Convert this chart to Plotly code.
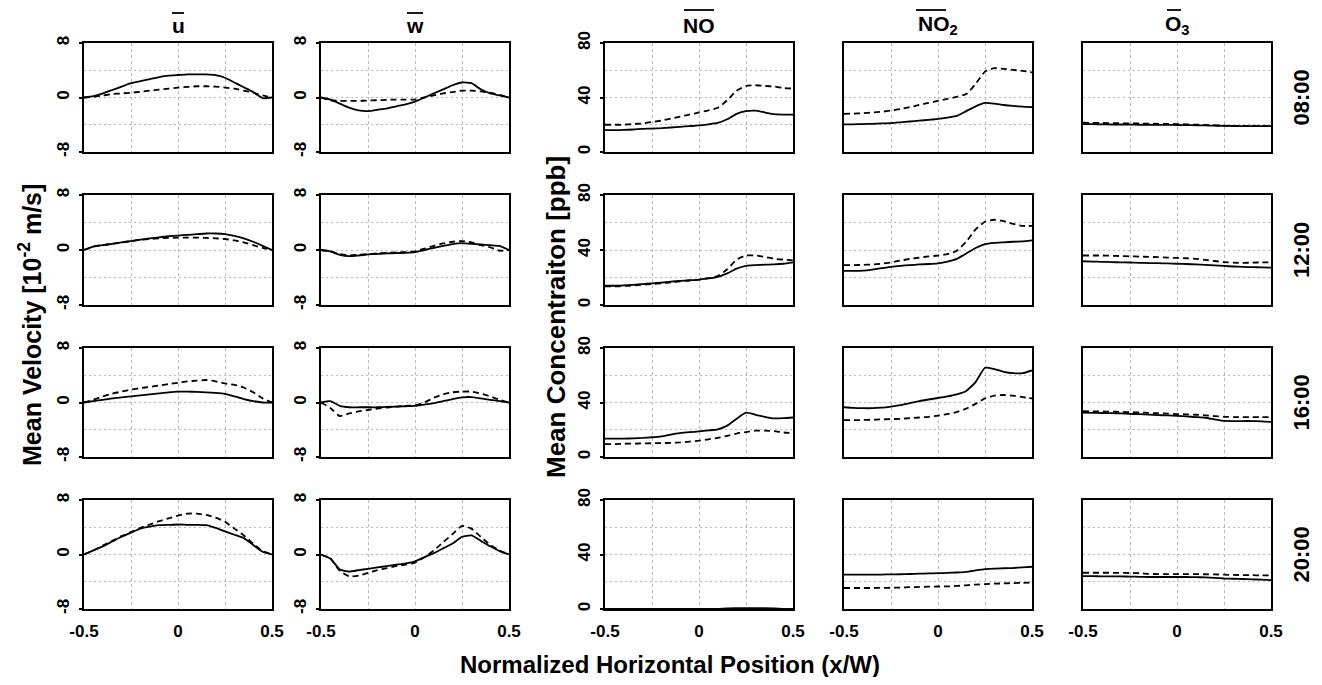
import plotly.graph_objects as go
from plotly.subplots import make_subplots

# ---------------- data ----------------
x_pos = [-0.5, -0.45, -0.4, -0.35, -0.3, -0.25, -0.2, -0.15, -0.1, -0.05, 0.0,
         0.05, 0.1, 0.15, 0.2, 0.25, 0.3, 0.35, 0.4, 0.45, 0.5]

column_titles = ["u", "w", "NO", "NO<sub>2</sub>", "O<sub>3</sub>"]
time_labels = ["08:00", "12:00", "16:00", "20:00"]
x_tick_vals = [-0.5, 0, 0.5]
x_tick_text = ["-0.5", "0", "0.5"]
vel_tick_vals = [-8, 0, 8]
vel_tick_text = ["-8", "0", "8"]
conc_tick_vals = [0, 40, 80]
conc_tick_text = ["0", "40", "80"]

# 08:00
u08_s = [0, 0.2, 0.6, 1.1, 1.6, 2.1, 2.4, 2.7, 3.0, 3.2, 3.3, 3.4, 3.4, 3.4, 3.3, 2.9, 2.2, 1.5, 0.8, -0.1, 0]
u08_d = [0, 0.1, 0.3, 0.5, 0.6, 0.7, 0.85, 1.0, 1.15, 1.3, 1.45, 1.55, 1.65, 1.65, 1.6, 1.45, 1.3, 1.0, 0.7, 0.3, 0]
w08_s = [0, -0.3, -0.9, -1.5, -1.9, -2.0, -1.8, -1.6, -1.3, -1.0, -0.6, 0.0, 0.6, 1.2, 1.8, 2.2, 2.1, 1.2, 0.6, 0.3, 0]
w08_d = [0, -0.4, -0.5, -0.5, -0.5, -0.45, -0.4, -0.35, -0.3, -0.3, -0.3, 0, 0.3, 0.6, 0.8, 1.0, 1.0, 0.9, 0.7, 0.4, 0]
no08_s = [16, 16, 16.2, 16.5, 17, 17.2, 17.5, 18, 18.5, 19, 19.5, 20.3, 21.3, 24, 28, 30, 30.3, 29, 27.8, 27.5, 27.5]
no08_d = [20, 20, 20, 20.5, 21, 22, 23, 24.5, 26, 27.5, 29, 30.5, 32.5, 38, 45, 48.5, 49, 48.5, 48, 47, 46.5]
no2_08_s = [20.3, 20.3, 20.5, 20.7, 21, 21.2, 21.8, 22.4, 23, 23.6, 24.3, 25.3, 26.5, 30, 33.5, 36, 35.5, 34.5, 33.8, 33.3, 33]
no2_08_d = [28, 28.2, 28.5, 29, 29.5, 30.5, 31.5, 33, 34.5, 36, 37.5, 39, 40.5, 42.5, 50, 59, 61.5, 61, 60.3, 59.5, 58.5]
o3_08_s = [20.5, 20.4, 20.3, 20.2, 20.2, 20.1, 20, 20, 19.9, 19.9, 19.8, 19.7, 19.6, 19.5, 19.3, 19.2, 19.1, 19, 19, 19, 19]
o3_08_d = [21.5, 21.4, 21.3, 21.2, 21.1, 21, 20.9, 20.8, 20.7, 20.6, 20.5, 20.3, 20.1, 19.9, 19.6, 19.3, 19.1, 19, 19, 19, 19.2]

# 12:00
u12_s = [0, 0.5, 0.7, 0.9, 1.1, 1.3, 1.5, 1.7, 1.85, 2.0, 2.1, 2.2, 2.3, 2.4, 2.4, 2.3, 2.05, 1.7, 1.2, 0.6, 0]
u12_d = [0, 0.5, 0.7, 0.9, 1.1, 1.3, 1.5, 1.6, 1.7, 1.75, 1.8, 1.8, 1.8, 1.75, 1.7, 1.6, 1.4, 1.1, 0.7, 0.3, 0]
w12_s = [0, -0.2, -0.7, -0.9, -0.8, -0.65, -0.55, -0.5, -0.45, -0.4, -0.3, 0, 0.3, 0.6, 0.85, 1.0, 0.9, 0.8, 0.7, 0.6, 0]
w12_d = [0, -0.2, -0.6, -0.8, -0.7, -0.6, -0.5, -0.4, -0.35, -0.3, -0.2, 0.2, 0.6, 0.95, 1.2, 1.3, 1.1, 0.7, 0.4, -0.1, 0]
no12_s = [14, 14, 14.3, 14.7, 15.2, 15.7, 16.3, 17, 17.5, 18, 18.5, 19.3, 20.5, 23, 26.5, 28.5, 29, 29.3, 29.5, 30, 31]
no12_d = [13.5, 13.5, 13.8, 14.2, 14.7, 15.2, 15.8, 16.5, 17.2, 17.8, 18.5, 19.5, 21, 26, 33, 36, 36, 35, 33.5, 33, 32.5]
no2_12_s = [24.8, 24.8, 25, 25.8, 26.8, 27.8, 28.5, 29, 29.5, 29.8, 30.3, 31.5, 33.5, 37.5, 41.5, 44.3, 45.2, 45.6, 46, 46.2, 47]
no2_12_d = [29, 29, 29.2, 29.5, 30, 31, 32.3, 33.5, 34.5, 35.3, 36, 37, 39.5, 46, 55, 60.5, 62, 61, 59, 57.5, 57.5]
o3_12_s = [31.8, 31.6, 31.4, 31.2, 31, 30.9, 30.7, 30.5, 30.4, 30.2, 30, 29.8, 29.5, 29.2, 28.8, 28.4, 28, 27.7, 27.5, 27.4, 27.2]
o3_12_d = [36, 36, 36, 35.8, 35.6, 35.4, 35.2, 35, 34.8, 34.5, 34.2, 34, 33.6, 32.8, 32, 31.2, 30.8, 30.6, 30.8, 31, 31]

# 16:00
u16_s = [0, 0.2, 0.4, 0.6, 0.75, 0.9, 1.05, 1.2, 1.35, 1.5, 1.6, 1.6, 1.55, 1.5, 1.4, 1.25, 0.9, 0.5, 0.2, 0, 0]
u16_d = [0, 0.4, 0.9, 1.3, 1.6, 1.9, 2.1, 2.3, 2.5, 2.7, 2.9, 3.1, 3.2, 3.3, 3.1, 2.8, 2.6, 2.2, 1.5, 0.6, 0]
w16_s = [0, 0.2, -0.5, -0.7, -0.7, -0.7, -0.7, -0.65, -0.6, -0.55, -0.5, -0.3, -0.1, 0.2, 0.5, 0.75, 0.8, 0.6, 0.4, 0.2, 0]
w16_d = [0, -0.8, -2.0, -1.6, -1.3, -1.1, -0.9, -0.75, -0.6, -0.5, -0.4, 0, 0.7, 1.2, 1.5, 1.6, 1.6, 1.3, 0.9, 0.4, 0]
no16_s = [13.5, 13.5, 13.5, 13.7, 14, 14.5, 15.2, 16.5, 17.5, 18.2, 18.8, 19.5, 20.3, 23, 28, 32.5, 31, 29.5, 28.3, 28.5, 29]
no16_d = [9.4, 9.5, 9.7, 9.8, 10, 10.1, 10.2, 10.4, 10.7, 11.3, 12, 13, 14, 15.5, 17.2, 18.3, 19.3, 19.4, 19, 18, 17.5]
no2_16_s = [36.5, 36, 35.8, 35.8, 36.2, 37, 38, 39.5, 41, 42.2, 43.3, 44.5, 46, 48.5, 55, 65.5, 64.5, 62.5, 61.5, 61.5, 63.5]
no2_16_d = [27, 27, 27.2, 27.4, 27.6, 27.8, 28, 28.5, 29, 29.5, 30.3, 31.5, 33, 35.5, 39, 43, 45, 45.5, 45, 44, 43]
o3_16_s = [32.5, 32.4, 32.3, 32.2, 32, 31.7, 31.4, 31.1, 30.8, 30.5, 30.2, 29.8, 29.3, 28.8, 27.6, 26.5, 26.4, 26.4, 26.4, 26.2, 25.8]
o3_16_d = [33.6, 33.5, 33.4, 33.3, 33.1, 32.9, 32.7, 32.4, 32.1, 31.8, 31.5, 31.3, 31, 30.6, 30, 29.5, 29.3, 29.3, 29.3, 29.3, 29.3]

# 20:00
u20_s = [0, 0.6, 1.2, 1.9, 2.6, 3.2, 3.8, 4.1, 4.3, 4.35, 4.4, 4.35, 4.35, 4.3, 3.9, 3.4, 2.9, 2.4, 1.4, 0.4, 0]
u20_d = [0, 0.6, 1.3, 2.0, 2.7, 3.3, 3.9, 4.4, 4.9, 5.3, 5.7, 6.0, 6.0, 5.8, 5.4, 4.8, 3.8, 2.8, 1.6, 0.5, 0]
w20_s = [0, -0.6, -2.2, -2.5, -2.3, -2.1, -1.9, -1.7, -1.5, -1.3, -1.0, -0.4, 0.2, 0.9, 1.6, 2.6, 2.8, 2.0, 1.2, 0.5, 0]
w20_d = [0, -0.6, -2.4, -3.2, -3.1, -2.7, -2.3, -2.0, -1.7, -1.5, -1.2, -0.4, 0.6, 1.8, 3.0, 4.2, 3.8, 2.6, 1.4, 0.6, 0]
no20_s = [0, 0, 0, 0, 0, 0, 0, 0, 0, 0, 0, 0, 0, 0.5, 0.6, 0.6, 0.6, 0.6, 0.5, 0, 0]
no20_d = [0, 0, 0, 0, 0, 0, 0, 0, 0, 0, 0, 0, 0, 0, 0, 0, 0, 0, 0, 0, 0]
no2_20_s = [25.3, 25.3, 25.3, 25.3, 25.3, 25.4, 25.5, 25.7, 25.9, 26.1, 26.3, 26.5, 26.8, 27.3, 28.3, 29.2, 29.7, 29.9, 30.1, 30.5, 31]
no2_20_d = [15.4, 15.4, 15.4, 15.4, 15.5, 15.6, 15.7, 16, 16.2, 16.4, 16.5, 16.6, 16.9, 17.4, 17.9, 18.3, 18.6, 18.8, 19, 19.2, 19.4]
o3_20_s = [24.2, 24.1, 24, 24, 23.9, 23.8, 23.6, 23.5, 23.5, 23.5, 23.5, 23.5, 23.4, 23.2, 22.8, 22.4, 22.2, 22, 21.8, 21.5, 21.2]
o3_20_d = [26.6, 26.6, 26.6, 26.6, 26.5, 26.4, 26.3, 25.8, 25.6, 25.6, 25.6, 25.6, 25.6, 25.5, 25.4, 25.2, 25, 24.9, 24.8, 24.7, 24.6]

panels = [
    [(u08_s, u08_d), (w08_s, w08_d), (no08_s, no08_d), (no2_08_s, no2_08_d), (o3_08_s, o3_08_d)],
    [(u12_s, u12_d), (w12_s, w12_d), (no12_s, no12_d), (no2_12_s, no2_12_d), (o3_12_s, o3_12_d)],
    [(u16_s, u16_d), (w16_s, w16_d), (no16_s, no16_d), (no2_16_s, no2_16_d), (o3_16_s, o3_16_d)],
    [(u20_s, u20_d), (w20_s, w20_d), (no20_s, no20_d), (no2_20_s, no2_20_d), (o3_20_s, o3_20_d)],
]

# ---------------- layout geometry (page pixels) ----------------
OFF = 8                      # default page margin around the plot div
W, H = 1322 - 2 * OFF, 685 - 2 * OFF
col_px = [(84, 272), (321, 509), (605, 793), (844, 1032), (1083, 1271)]
row_px = [(43, 152), (195, 305), (348, 457), (500, 609)]


def px(xp):
    return (xp - OFF) / W


def py(yp):
    return 1 - (yp - OFF) / H


FONT = "Liberation Sans, Arial, sans-serif"
GRID = "#b8b8b8"

fig = make_subplots(rows=4, cols=5)

for r in range(4):
    for c in range(5):
        solid, dashed = panels[r][c]
        fig.add_trace(go.Scatter(x=x_pos, y=solid, mode="lines",
                                 line=dict(color="black", width=1.8, shape="spline", smoothing=0.5),
                                 showlegend=False, hoverinfo="skip"), row=r + 1, col=c + 1)
        fig.add_trace(go.Scatter(x=x_pos, y=dashed, mode="lines",
                                 line=dict(color="black", width=1.8, dash="6px,4px", shape="spline", smoothing=0.5),
                                 showlegend=False, hoverinfo="skip"), row=r + 1, col=c + 1)

tick_font = dict(family=FONT, size=17, color="black", weight="bold")

for r in range(4):
    for c in range(5):
        idx = r * 5 + c + 1
        xn = "xaxis" if idx == 1 else f"xaxis{idx}"
        yn = "yaxis" if idx == 1 else f"yaxis{idx}"
        x0, x1 = col_px[c]
        t, b = row_px[r]
        velocity = c < 2
        fig.layout[xn].update(
            domain=[px(x0), px(x1)], range=[-0.5, 0.5], automargin=False,
            tickmode="array", tickvals=x_tick_vals, ticktext=x_tick_text,
            showticklabels=(r == 3), ticks="", ticklabelstandoff=6,
            tickfont=tick_font,
            showline=True, mirror=True, linecolor="black", linewidth=2,
            showgrid=True, gridcolor=GRID, gridwidth=1.3, griddash="3px,3px",
            minor=dict(tickvals=[-0.25, 0.25], showgrid=True, gridcolor=GRID,
                       gridwidth=1.3, griddash="3px,3px", ticks=""),
            zeroline=False, fixedrange=True,
        )
        fig.layout[yn].update(
            domain=[py(b), py(t)], automargin=False,
            range=[-8, 8] if velocity else [0, 80],
            tickmode="array",
            tickvals=vel_tick_vals if velocity else conc_tick_vals,
            ticktext=vel_tick_text if velocity else conc_tick_text,
            showticklabels=(c in (0, 1, 2)),
            ticks="outside" if c in (0, 1, 2) else "", ticklen=3, tickwidth=1.5, tickcolor="black",
            ticklabelstandoff=3,
            tickangle=-90,
            tickfont=tick_font,
            showline=True, mirror=True, linecolor="black", linewidth=2,
            showgrid=True, gridcolor=GRID, gridwidth=1.3, griddash="2px,3px",
            minor=dict(tickvals=[-4, 4] if velocity else [20, 60], showgrid=True,
                       gridcolor=GRID, gridwidth=1.3, griddash="2px,3px", ticks=""),
            zeroline=False, fixedrange=True,
        )

annotations = []
shapes = []

# column titles with overlines (x-offsets from title centre, y in page px)
title_font = dict(family=FONT, size=21, color="black", weight="bold")
overline_spans = [(-6, 6, 13), (-8, 8, 13), (-15, 15, 10), (-22, 8, 10), (-10, 4, 10)]
for c in range(5):
    cx = (col_px[c][0] + col_px[c][1]) / 2
    annotations.append(dict(text=column_titles[c], x=px(cx), y=py(25), xref="paper", yref="paper",
                            showarrow=False, font=title_font, xanchor="center", yanchor="middle"))
    a, bb, yy = overline_spans[c]
    shapes.append(dict(type="line", xref="paper", yref="paper",
                       x0=px(cx + a), x1=px(cx + bb), y0=py(yy), y1=py(yy),
                       line=dict(color="black", width=1.8)))

# time labels on the right
for r in range(4):
    cy = (row_px[r][0] + row_px[r][1]) / 2
    annotations.append(dict(text=time_labels[r], x=px(1301), y=py(cy), xref="paper", yref="paper",
                            showarrow=False, textangle=-90, font=dict(family=FONT, size=22, color="black", weight="bold"),
                            xanchor="center", yanchor="middle"))

# axis titles
annotations.append(dict(text="Mean Velocity [10<sup>-2</sup> m/s]", x=px(30), y=py(325),
                        xref="paper", yref="paper", showarrow=False, textangle=-90,
                        font=dict(family=FONT, size=25, color="black", weight="bold"),
                        xanchor="center", yanchor="middle"))
annotations.append(dict(text="Mean Concentraiton [ppb]", x=px(556), y=py(317),
                        xref="paper", yref="paper", showarrow=False, textangle=-90,
                        font=dict(family=FONT, size=26, color="black", weight="bold"),
                        xanchor="center", yanchor="middle"))
annotations.append(dict(text="Normalized Horizontal Position (x/W)", x=px(670), y=py(664),
                        xref="paper", yref="paper", showarrow=False,
                        font=dict(family=FONT, size=24, color="black", weight="bold"),
                        xanchor="center", yanchor="middle"))

fig.update_layout(width=W, height=H, margin=dict(l=0, r=0, t=0, b=0),
                  paper_bgcolor="white", plot_bgcolor="white",
                  annotations=annotations, shapes=shapes, showlegend=False)

fig.write_html("out.html")
